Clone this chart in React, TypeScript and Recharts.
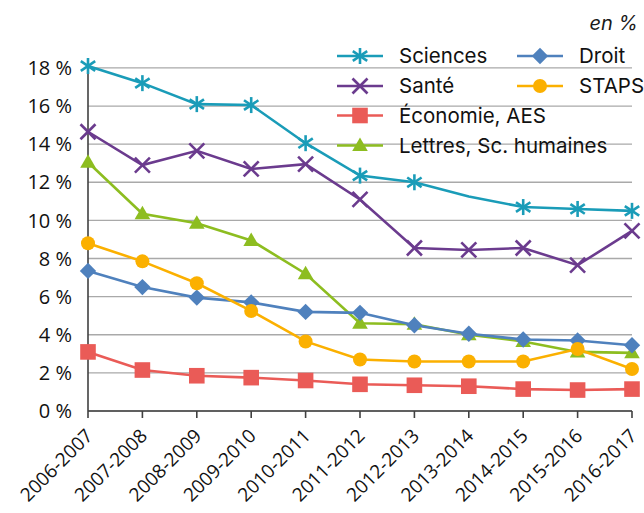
import React from 'react';
import { LineChart, Line, XAxis, YAxis, CartesianGrid } from 'recharts';

const categories = ['2006-2007', '2007-2008', '2008-2009', '2009-2010', '2010-2011', '2011-2012', '2012-2013', '2013-2014', '2014-2015', '2015-2016', '2016-2017'];
const sciences = [18.1, 17.2, 16.1, 16.05, 14.05, 12.35, 12.0, 11.25, 10.7, 10.6, 10.5];
const sante = [14.65, 12.9, 13.65, 12.7, 12.95, 11.1, 8.55, 8.45, 8.55, 7.65, 9.45];
const economie = [3.1, 2.15, 1.85, 1.75, 1.6, 1.4, 1.35, 1.3, 1.15, 1.1, 1.15];
const lettres = [13.05, 10.35, 9.85, 8.95, 7.2, 4.6, 4.55, 4.0, 3.65, 3.1, 3.05];
const droit = [7.35, 6.5, 5.95, 5.7, 5.2, 5.15, 4.5, 4.05, 3.75, 3.7, 3.45];
const staps = [8.8, 7.85, 6.7, 5.25, 3.65, 2.7, 2.6, 2.6, 2.6, 3.25, 2.2];
const yTicks = [0, 2, 4, 6, 8, 10, 12, 14, 16, 18];
const hiddenSciencesMarkers = [7];

const COLORS = {
  sciences: '#1a9cb8',
  sante: '#6b3b8e',
  economie: '#ea5b57',
  lettres: '#8dbd20',
  droit: '#4f81bd',
  staps: '#fbb000',
};

const data = categories.map((cat, i) => ({
  cat,
  sciences: sciences[i],
  sante: sante[i],
  economie: economie[i],
  lettres: lettres[i],
  droit: droit[i],
  staps: staps[i],
}));

type Kind = 'star' | 'x' | 'square' | 'triangle' | 'diamond' | 'circle';

const Marker = ({ kind, cx, cy, color }: { kind: Kind; cx: number; cy: number; color: string }) => {
  const r = 8;
  switch (kind) {
    case 'star':
      return (
        <g stroke={color} strokeWidth={2.6} strokeLinecap="butt">
          <line x1={cx} y1={cy - r} x2={cx} y2={cy + r} />
          <line x1={cx - r * 0.9} y1={cy - r * 0.6} x2={cx + r * 0.9} y2={cy + r * 0.6} />
          <line x1={cx - r * 0.9} y1={cy + r * 0.6} x2={cx + r * 0.9} y2={cy - r * 0.6} />
        </g>
      );
    case 'x':
      return (
        <g stroke={color} strokeWidth={2.6}>
          <line x1={cx - 7.5} y1={cy - 7.5} x2={cx + 7.5} y2={cy + 7.5} />
          <line x1={cx - 7.5} y1={cy + 7.5} x2={cx + 7.5} y2={cy - 7.5} />
        </g>
      );
    case 'square':
      return <rect x={cx - 7.8} y={cy - 7.8} width={15.6} height={15.6} fill={color} />;
    case 'triangle':
      return <polygon points={`${cx},${cy - 8} ${cx + 7.8},${cy + 5.5} ${cx - 7.8},${cy + 5.5}`} fill={color} />;
    case 'diamond':
      return <polygon points={`${cx},${cy - 8.2} ${cx + 8.2},${cy} ${cx},${cy + 8.2} ${cx - 8.2},${cy}`} fill={color} />;
    case 'circle':
    default:
      return <circle cx={cx} cy={cy} r={7} fill={color} />;
  }
};

const makeDot = (kind: Kind, color: string, hidden: number[] = []) => (props: any) => {
  const { cx, cy, index } = props;
  if (cx == null || cy == null || hidden.includes(index)) return <g key={`d-${kind}-${index}`} />;
  return (
    <g key={`d-${kind}-${index}`}>
      <Marker kind={kind} cx={cx} cy={cy} color={color} />
    </g>
  );
};

const series: { key: string; name: string; kind: Kind; color: string; hidden?: number[] }[] = [
  { key: 'sciences', name: 'Sciences', kind: 'star', color: COLORS.sciences, hidden: hiddenSciencesMarkers },
  { key: 'sante', name: 'Santé', kind: 'x', color: COLORS.sante },
  { key: 'economie', name: 'Économie, AES', kind: 'square', color: COLORS.economie },
  { key: 'lettres', name: 'Lettres, Sc. humaines', kind: 'triangle', color: COLORS.lettres },
  { key: 'droit', name: 'Droit', kind: 'diamond', color: COLORS.droit },
  { key: 'staps', name: 'STAPS', kind: 'circle', color: COLORS.staps },
];

const legendPos: Record<string, { x: number; y: number }> = {
  sciences: { x: 337, y: 56 },
  sante: { x: 337, y: 86 },
  economie: { x: 337, y: 115.5 },
  lettres: { x: 337, y: 145.5 },
  droit: { x: 517, y: 56 },
  staps: { x: 517, y: 86 },
};

const LegendOverlay = () => (
  <svg width={644} height={180} style={{ position: 'absolute', left: 0, top: 0, overflow: 'visible', pointerEvents: 'none' }}>
    <text x={638} y={23} textAnchor="end" dy="0.35em" fontFamily="Inter" fontStyle="italic" fontSize={20} fill="#1a1a1a">
      en %
    </text>
    {series.map((s) => {
      const p = legendPos[s.key];
      return (
        <g key={s.key}>
          <line x1={p.x} y1={p.y} x2={p.x + 46} y2={p.y} stroke={s.color} strokeWidth={2.6} />
          <Marker kind={s.kind} cx={p.x + 23} cy={p.y} color={s.color} />
          <text x={p.x + 62} y={p.y} dy="0.35em" fontFamily="Inter" fontSize={20.5} fill="#111">
            {s.name}
          </text>
        </g>
      );
    })}
  </svg>
);

const XTick = (props: any) => {
  const { x, payload } = props;
  const ax = x + 6;
  const ay = 437;
  return (
    <text
      x={ax}
      y={ay}
      textAnchor="end"
      transform={`rotate(-45, ${ax}, ${ay})`}
      fontFamily="Open Sans"
      fontSize={19}
      fill="#111"
    >
      {payload.value}
    </text>
  );
};

const YTick = (props: any) => {
  const { y, payload } = props;
  return (
    <text x={72} y={y} dy="0.36em" textAnchor="end" fontFamily="Open Sans" fontSize={20} fill="#111">
      {`${payload.value} %`}
    </text>
  );
};

export default function App() {
  return (
    <div style={{ position: 'absolute', left: 0, top: 0, width: 644, height: 513, background: '#fff' }}>
      <LineChart width={644} height={513} data={data} margin={{ top: 66, right: 12, bottom: 0, left: 0 }}>
        <CartesianGrid horizontal vertical={false} stroke="#a9a9a9" strokeWidth={1.3} syncWithTicks />
        <XAxis
          dataKey="cat"
          interval={0}
          height={102}
          tickSize={7}
          axisLine={{ stroke: '#404040', strokeWidth: 1.6 }}
          tickLine={{ stroke: '#404040', strokeWidth: 1.6 }}
          tick={<XTick />}
        />
        <YAxis
          width={88}
          domain={[0, 18.1]}
          ticks={yTicks}
          interval={0}
          tickLine={false}
          axisLine={{ stroke: '#404040', strokeWidth: 1.6 }}
          tick={<YTick />}
        />
        {series.map((s) => (
          <Line
            key={s.key}
            dataKey={s.key}
            name={s.name}
            stroke={s.color}
            strokeWidth={2.6}
            type="linear"
            isAnimationActive={false}
            dot={makeDot(s.kind, s.color, s.hidden || [])}
            activeDot={false}
          />
        ))}
      </LineChart>
      <LegendOverlay />
    </div>
  );
}
